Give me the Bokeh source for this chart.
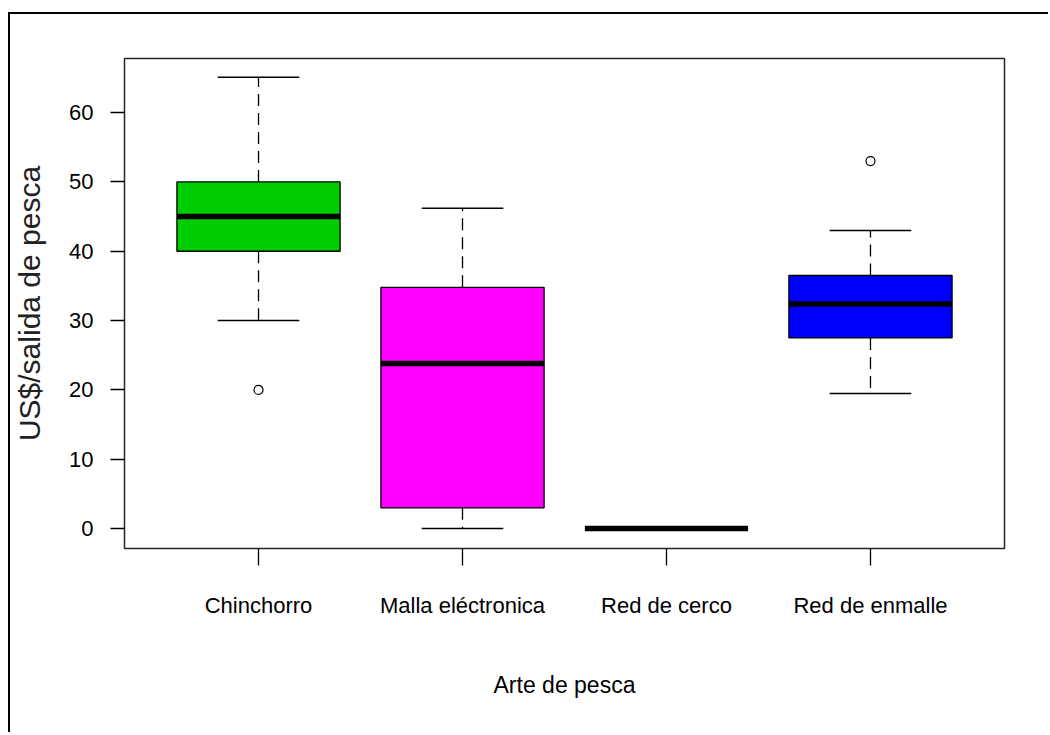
from bokeh.plotting import figure
from bokeh.models import Range1d, FixedTicker, ColumnDataSource
from bokeh.embed import file_html
from bokeh.resources import INLINE

categories = ["Chinchorro", "Malla eléctronica", "Red de cerco", "Red de enmalle"]
lower_whisker = [30.0, 0.0, 0.0, 19.5]
q1 = [40.0, 3.0, 0.0, 27.5]
median = [45.0, 23.8, 0.0, 32.4]
q3 = [50.0, 34.8, 0.0, 36.5]
upper_whisker = [65.1, 46.2, 0.0, 43.0]
colors = ["#00CD00", "#FF00FF", "#FFFFFF", "#0000FF"]
outlier_cat = ["Chinchorro", "Red de enmalle"]
outlier_val = [20.0, 53.0]
y_ticks = [0, 10, 20, 30, 40, 50, 60]

pos = [i + 1 for i in range(len(categories))]
box_w = 0.8
cap_w = 0.4

src = ColumnDataSource(dict(
    x=pos,
    lo=lower_whisker, q1=q1, med=median, q3=q3, hi=upper_whisker, color=colors,
    bx0=[x - box_w / 2 for x in pos], bx1=[x + box_w / 2 for x in pos],
    cx0=[x - cap_w / 2 for x in pos], cx1=[x + cap_w / 2 for x in pos],
))
out_src = ColumnDataSource(dict(
    x=[pos[categories.index(c)] for c in outlier_cat], y=outlier_val))

FONT = "Liberation Sans"

p = figure(width=1040, height=720,
           x_range=Range1d(0.343, 4.657), y_range=Range1d(-2.87, 67.8),
           output_backend="svg", toolbar_location=None,
           min_border_left=114, min_border_top=44, min_border_right=46, min_border_bottom=186)
p.styles = {"border-left": "2px solid black", "border-top": "2px solid black",
            "margin-top": "12px", "margin-left": "8px"}

p.xgrid.visible = False
p.ygrid.visible = False
p.background_fill_color = "white"
p.border_fill_color = "white"
p.outline_line_color = "black"
p.outline_line_width = 1.5
p.outline_line_alpha = 0.85

# whiskers (dashed)
p.segment(x0="x", x1="x", y0="q3", y1="hi", source=src, line_color="black", line_width=1.3, line_dash="12 7")
p.segment(x0="x", x1="x", y0="q1", y1="lo", source=src, line_color="black", line_width=1.3, line_dash="12 7")
# caps
p.segment(x0="cx0", x1="cx1", y0="hi", y1="hi", source=src, line_color="black", line_width=1.5)
p.segment(x0="cx0", x1="cx1", y0="lo", y1="lo", source=src, line_color="black", line_width=1.5)
# boxes
p.quad(left="bx0", right="bx1", bottom="q1", top="q3", source=src,
       fill_color="color", line_color="black", line_width=1.3)
# medians
p.segment(x0="bx0", x1="bx1", y0="med", y1="med", source=src, line_color="black", line_width=5.5)
# outliers
p.scatter(x="x", y="y", source=out_src, marker="circle", size=9,
          fill_color=None, line_color="black", line_width=1.2)

# x axis
p.xaxis.ticker = FixedTicker(ticks=pos)
p.xaxis.major_label_overrides = {x: c for x, c in zip(pos, categories)}
p.xaxis.axis_label = "Arte de pesca"
p.xaxis.axis_line_color = None
p.xaxis.major_tick_out = 17
p.xaxis.major_tick_in = 0
p.xaxis.minor_tick_line_color = None
p.xaxis.major_tick_line_width = 1.3
p.xaxis.major_label_standoff = 27
p.xaxis.axis_label_standoff = 51
p.xaxis.major_label_text_font = FONT
p.xaxis.major_label_text_font_size = "22px"
p.xaxis.axis_label_text_font = FONT
p.xaxis.axis_label_text_font_size = "23px"
p.xaxis.axis_label_text_font_style = "normal"
p.xaxis.major_label_text_color = "black"
p.xaxis.axis_label_text_color = "black"

# y axis
p.yaxis.ticker = FixedTicker(ticks=y_ticks)
p.yaxis.axis_label = "US$/salida de pesca"
p.yaxis.axis_line_color = None
p.yaxis.major_tick_out = 14
p.yaxis.major_tick_in = 0
p.yaxis.minor_tick_line_color = None
p.yaxis.major_tick_line_width = 1.3
p.yaxis.major_label_standoff = 17
p.yaxis.axis_label_standoff = 20
p.yaxis.major_label_text_font = FONT
p.yaxis.major_label_text_font_size = "22px"
p.yaxis.axis_label_text_font = FONT
p.yaxis.axis_label_text_font_size = "30px"
p.yaxis.axis_label_text_font_style = "normal"
p.yaxis.major_label_text_color = "black"
p.yaxis.axis_label_text_color = "#222222"

open("out.html", "w").write(file_html(p, INLINE))
